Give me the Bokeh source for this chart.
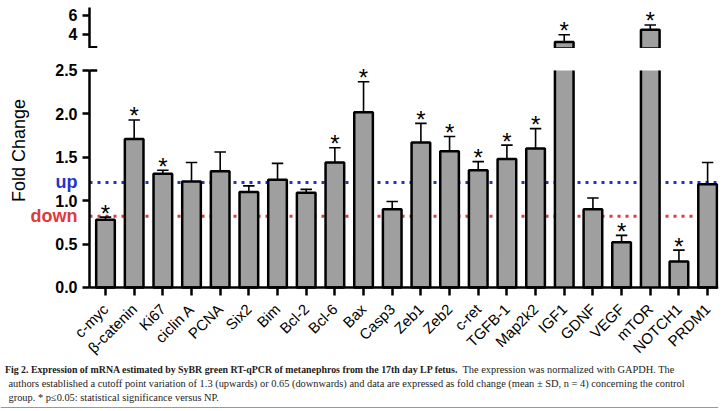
import numpy as np
from bokeh.plotting import figure
from bokeh.models import (Range1d, FixedTicker, ColumnDataSource, Span,
                          LinearAxis, PrintfTickFormatter)
from bokeh.layouts import column
from bokeh.embed import file_html
from bokeh.resources import INLINE
from bokeh.core.properties import value

# ---- data: fold change of mRNA expression (mean and SD, n = 4) ----
genes = ["c-myc", "β-catenin", "Ki67", "ciclin A", "PCNA", "Six2", "Bim",
         "Bcl-2", "Bcl-6", "Bax", "Casp3", "Zeb1", "Zeb2", "c-ret", "TGFB-1",
         "Map2k2", "IGF1", "GDNF", "VEGF", "mTOR", "NOTCH1", "PRDM1"]
fold_change = [0.78, 1.71, 1.31, 1.22, 1.34, 1.10, 1.24, 1.09, 1.44, 2.02, 0.90,
               1.67, 1.57, 1.35, 1.48, 1.60, 3.20, 0.90, 0.52, 4.50, 0.30, 1.19]
sd = [0.03, 0.22, 0.04, 0.22, 0.22, 0.07, 0.19, 0.04, 0.17, 0.35, 0.09,
      0.22, 0.17, 0.10, 0.16, 0.23, 0.77, 0.13, 0.08, 0.50, 0.13, 0.25]
significant = [1, 1, 1, 0, 0, 0, 0, 0, 1, 1, 0, 1, 1, 1, 1, 1, 1, 0, 1, 1, 1, 0]

up_cutoff = 1.21
down_cutoff = 0.82

lower_ticks = [0.0, 0.5, 1.0, 1.5, 2.0, 2.5]
upper_ticks = [4, 6]

# ---- broken axis geometry ----
BREAK_LOW = 2.5          # top of the lower segment
BREAK_HIGH = 2.526       # bottom of the upper segment
UPPER_TOP = 6.85
BAR_W = 0.65
CAP = 0.2
X_START, X_END = -3.662, 21.38   # left part of the frame holds the y labels
AXIS_X = -0.558                  # where the y axes stand
Y_FLOOR = -0.876                 # room under zero for the gene names

FONT = "Liberation Sans"
BAR_FILL = "#9f9f9f"
BLUE = "#2633c9"
RED = "#de3a3a"

x = np.arange(len(genes))
fc = np.array(fold_change)
err_top = fc + np.array(sd)
sig = np.array(significant, dtype=bool)
broken = fc > BREAK_LOW

def subset(mask):
    return ColumnDataSource(dict(
        x=x[mask], mean=fc[mask], err=err_top[mask],
        left=x[mask] - BAR_W / 2, right=x[mask] + BAR_W / 2,
        cl=x[mask] - CAP, cr=x[mask] + CAP,
        low_top=np.minimum(fc[mask], BREAK_LOW),
        star=["*"] * int(mask.sum())))

src_all = subset(np.ones(len(x), dtype=bool))
src_whole = subset(~broken)
src_broken = subset(broken)
star_low = subset(sig & ~broken)
star_up = subset(sig & broken)

x_range = Range1d(X_START, X_END)

def style_common(p):
    p.xgrid.visible = False
    p.ygrid.visible = False
    p.outline_line_color = None
    p.background_fill_color = "white"
    p.border_fill_color = "white"

def style_axis(ax):
    ax.axis_line_width = 2.5
    ax.axis_line_color = "black"
    ax.major_tick_line_width = 2.5
    ax.major_tick_in = 0
    ax.minor_tick_line_color = None
    ax.major_label_text_font = FONT
    ax.major_label_text_color = "black"

def make_y_axis(ticks, bounds, fmt=None):
    ax = LinearAxis(ticker=FixedTicker(ticks=ticks), bounds=bounds,
                    fixed_location=AXIS_X)
    if fmt is not None:
        ax.formatter = fmt
    style_axis(ax)
    ax.major_tick_out = 7
    ax.major_label_text_font_style = "bold"
    ax.major_label_text_font_size = "16px"
    ax.major_label_standoff = 5
    return ax

def draw_stars(p, src):
    p.text(x="x", y="err", text="star", source=src, text_align="center",
           text_baseline="alphabetic", y_offset=-4, text_font=value(FONT),
           text_font_size="24px", text_color="black")

# ---- upper segment (values above the break) ----
p_up = figure(width=728, height=48, x_range=x_range,
              y_range=Range1d(BREAK_HIGH, 7.05), x_axis_type=None,
              y_axis_type=None, output_backend="svg", toolbar_location=None,
              min_border_left=0, min_border_right=10,
              min_border_top=5, min_border_bottom=0)
style_common(p_up)
p_up.add_layout(make_y_axis(upper_ticks, (BREAK_HIGH, UPPER_TOP)), "left")

p_up.segment(x0="x", y0="mean", x1="x", y1="err", source=src_broken,
             line_color="black", line_width=1.6)
p_up.segment(x0="cl", y0="err", x1="cr", y1="err", source=src_broken,
             line_color="black", line_width=1.6)
p_up.vbar(x="x", top="mean", bottom=0, width=BAR_W, source=src_broken,
          fill_color=BAR_FILL, line_color="black", line_width=2.5)
draw_stars(p_up, star_up)
# break cap at the foot of the upper axis
p_up.segment(x0=[AXIS_X], y0=[BREAK_HIGH + 0.12], x1=[AXIS_X + 0.27],
             y1=[BREAK_HIGH + 0.12], line_color="black", line_width=2.5)

# ---- lower segment ----
p_low = figure(width=728, height=315, x_range=x_range,
               y_range=Range1d(Y_FLOOR, 2.638), x_axis_type=None,
               y_axis_type=None, output_backend="svg", toolbar_location=None,
               min_border_left=0, min_border_right=10,
               min_border_top=10, min_border_bottom=0)
style_common(p_low)
p_low.add_layout(make_y_axis(lower_ticks, (0, BREAK_LOW),
                             PrintfTickFormatter(format="%.1f")), "left")

xa = LinearAxis(ticker=FixedTicker(ticks=list(x)), bounds=(AXIS_X, X_END),
                fixed_location=0)
style_axis(xa)
xa.major_label_overrides = {int(i): g for i, g in zip(x, genes)}
xa.major_label_orientation = np.pi / 4
xa.major_tick_out = 8
xa.major_label_text_font_size = "15px"
xa.major_label_standoff = 11
p_low.add_layout(xa, "below")

# cutoff lines, drawn first so the bars cover them
for loc, col in ((up_cutoff, BLUE), (down_cutoff, RED)):
    p_low.segment(x0=[AXIS_X], y0=[loc], x1=[X_END], y1=[loc],
                  line_color=col, line_width=3, line_dash="3 5")

p_low.segment(x0="x", y0="mean", x1="x", y1="err", source=src_whole,
              line_color="black", line_width=1.6)
p_low.segment(x0="cl", y0="err", x1="cr", y1="err", source=src_whole,
              line_color="black", line_width=1.6)
p_low.vbar(x="x", top="low_top", bottom=0, width=BAR_W, source=src_all,
           fill_color=BAR_FILL, line_color=None)
p_low.vbar(x="x", top="mean", bottom=0, width=BAR_W, source=src_whole,
           fill_color=None, line_color="black", line_width=2.5)
p_low.segment(x0="left", y0=0, x1="left", y1="low_top", source=src_broken,
              line_color="black", line_width=2.5)
p_low.segment(x0="right", y0=0, x1="right", y1="low_top", source=src_broken,
              line_color="black", line_width=2.5)
draw_stars(p_low, star_low)
# break cap at the head of the lower axis
p_low.segment(x0=[AXIS_X], y0=[BREAK_LOW], x1=[AXIS_X + 0.27],
              y1=[BREAK_LOW], line_color="black", line_width=2.5)

# cutoff names and axis title, left of the axis
p_low.text(x=[AXIS_X - 0.42] * 2, y=[up_cutoff, down_cutoff],
           text=["up", "down"], text_color=[BLUE, RED], text_align="right",
           text_baseline="middle", text_font=value(FONT),
           text_font_style="bold", text_font_size="18px")
p_low.text(x=[X_START + 0.63], y=[1.578], text=["Fold Change"],
           angle=np.pi / 2, text_align="center", text_baseline="middle",
           text_font=value(FONT), text_font_size="18px", text_color="black")

# ---- figure legend ----
p_cap = figure(width=728, height=48, x_range=Range1d(0, 718),
               y_range=Range1d(48, 0), x_axis_type=None, y_axis_type=None,
               output_backend="svg", toolbar_location=None, min_border=0,
               min_border_right=10)
style_common(p_cap)
SERIF = value("Liberation Serif")
cap_bold = ("Fig 2. Expression of mRNA estimated by SyBR green RT-qPCR of "
            "metanephros from the 17th day LP fetus.")
cap_1 = "The expression was normalized with GAPDH. The"
cap_2 = ("authors established a cutoff point variation of 1.3 (upwards) or 0.65 "
         "(downwards) and data are expressed as fold change (mean ± SD, n = 4) "
         "concerning the control")
cap_3 = "group. * p≤0.05: statistical significance versus NP."
p_cap.text(x=[458], y=[6], text=[cap_bold], text_align="right",
           text_baseline="middle", text_font=SERIF, text_font_style="bold",
           text_font_size="9.9px", text_color="#222222")
p_cap.text(x=[462, 8, 8], y=[6, 20, 34], text=[cap_1, cap_2, cap_3],
           text_align="left", text_baseline="middle", text_font=SERIF,
           text_font_size="10.4px", text_color="#222222")
p_cap.add_layout(Span(location=44, dimension="width", line_color="#999999",
                      line_width=1))

layout = column(p_up, p_low, p_cap, spacing=0)
open("out.html", "w").write(file_html(layout, INLINE))
